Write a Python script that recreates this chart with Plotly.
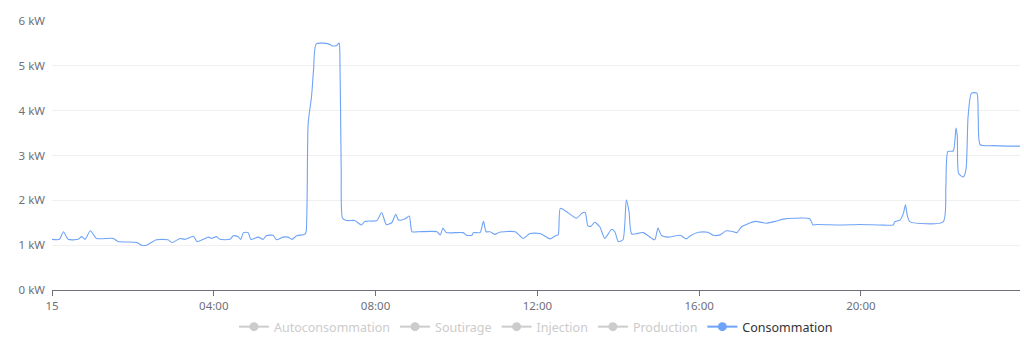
import plotly.graph_objects as go

DAY = "2024-01-15"

times = ["00:00","00:11","00:17","00:24","00:39","00:44","00:49","00:57","01:06","01:31",
         "01:38","02:06","02:13","02:20","02:35","02:52","02:58","03:10","03:17","03:30",
         "03:35","03:44","03:52","03:57","04:04","04:09","04:24","04:29","04:36","04:40",
         "04:44","04:51","04:55","05:06","05:13","05:18","05:28","05:33","05:43","05:50",
         "05:56","06:03","06:15","06:17","06:20","06:25","06:28","06:32","06:50","06:55",
         "07:02","07:06","07:07","07:09","07:11","07:17","07:29","07:39","07:44","08:02",
         "08:09","08:16","08:24","08:30","08:34","08:44","08:50","08:54","09:03","09:31",
         "09:36","09:40","09:45","10:10","10:15","10:23","10:25","10:35","10:40","10:44",
         "10:50","10:57","11:04","11:27","11:39","11:49","12:04","12:19","12:28","12:31",
         "12:34","12:43","12:58","13:06","13:11","13:15","13:20","13:25","13:33","13:40",
         "13:50","13:55","14:00","14:07","14:12","14:16","14:20","14:37","14:54","14:59",
         "15:04","15:14","15:32","15:41","15:46","15:59","16:13","16:21","16:31","16:40",
         "16:48","16:56","17:03","17:23","17:40","17:55","18:05","18:20","18:44","18:49",
         "18:54","19:29","19:59","20:28","20:48","20:50","20:58","21:03","21:06","21:09",
         "21:13","22:02","22:06","22:09","22:17","22:21","22:23","22:25","22:32","22:36",
         "22:39","22:44","22:52","22:54","22:57","23:16","23:36","23:56"]

consommation = [1.13,1.13,1.30,1.13,1.13,1.19,1.13,1.32,1.15,1.15,
                1.08,1.06,1.00,1.00,1.12,1.12,1.06,1.15,1.13,1.20,
                1.08,1.13,1.18,1.15,1.19,1.13,1.13,1.21,1.19,1.13,
                1.28,1.28,1.13,1.18,1.13,1.21,1.22,1.12,1.18,1.18,
                1.13,1.21,1.24,1.30,3.72,4.31,4.91,5.49,5.49,5.45,
                5.45,5.51,5.30,2.68,1.60,1.55,1.55,1.45,1.53,1.55,
                1.73,1.46,1.50,1.69,1.56,1.59,1.65,1.30,1.30,1.30,
                1.23,1.38,1.28,1.28,1.22,1.22,1.28,1.28,1.53,1.30,
                1.30,1.24,1.29,1.30,1.15,1.26,1.26,1.14,1.22,1.23,
                1.82,1.75,1.60,1.71,1.73,1.43,1.43,1.51,1.40,1.15,
                1.35,1.30,1.08,1.12,2.01,1.75,1.25,1.28,1.12,1.38,
                1.22,1.18,1.22,1.14,1.20,1.29,1.29,1.22,1.23,1.32,
                1.31,1.28,1.41,1.53,1.49,1.54,1.58,1.60,1.59,1.45,
                1.46,1.45,1.46,1.45,1.45,1.52,1.56,1.71,1.90,1.65,
                1.52,1.52,2.31,3.09,3.10,3.61,3.42,2.60,2.52,2.70,
                3.87,4.39,4.39,3.87,3.24,3.22,3.21,3.21]

hidden_series = ["Autoconsommation", "Soutirage", "Injection", "Production"]
shown_series = "Consommation"
tick_hours = ["00:00", "04:00", "08:00", "12:00", "16:00", "20:00"]
tick_labels = ["15", "04:00", "08:00", "12:00", "16:00", "20:00"]
y_ticks = [0, 1, 2, 3, 4, 5, 6]
y_labels = [f"{v} kW" for v in y_ticks]

BLUE = "#6fa3f7"
GREY = "#cccccc"

x = [f"{DAY} {t}" for t in times]

fig = go.Figure()
fig.add_trace(go.Scatter(x=x, y=consommation, name=shown_series, mode="lines",
                         line=dict(color=BLUE, width=1.1, shape="spline", smoothing=0.6),
                         showlegend=False))
for name in hidden_series:
    fig.add_trace(go.Scatter(x=[x[0]], y=[None], mode="lines+markers",
                             name=f"<span style='color:{GREY}'>{name}</span>",
                             line=dict(color=GREY, width=2),
                             marker=dict(size=9, color=GREY), hoverinfo="skip"))
fig.add_trace(go.Scatter(x=[x[0]], y=[None], mode="lines+markers",
                         name=shown_series,
                         line=dict(color=BLUE, width=2),
                         marker=dict(size=9, color=BLUE), hoverinfo="skip"))

fig.update_layout(
    width=1024, height=344,
    margin=dict(l=52, r=4, t=21, b=54, autoexpand=False),
    paper_bgcolor="white", plot_bgcolor="white",
    font=dict(family="Noto Sans", size=11, color="#6e7079"),
    showlegend=True,
    legend=dict(orientation="h", x=0.5, xanchor="center",
                yref="container", y=1 - 327 / 344, yanchor="middle",
                font=dict(size=12.5, color="#333333"), itemwidth=30,
                bgcolor="rgba(0,0,0,0)", tracegroupgap=0),
    xaxis=dict(type="date",
               range=[f"{DAY} 00:00", f"{DAY} 23:56"],
               tickvals=[f"{DAY} {h}" for h in tick_hours],
               ticktext=tick_labels,
               showgrid=False, showline=True, linecolor="#6e7079", linewidth=1,
               ticks="outside", ticklen=5, tickcolor="#6e7079",
               tickfont=dict(size=11.5, color="#6e7079"), zeroline=False),
    yaxis=dict(range=[0, 6], tickvals=y_ticks, ticktext=y_labels,
               showgrid=True, gridcolor="#f0f0f0", gridwidth=1,
               showline=False, zeroline=False, ticks="", ticklabelstandoff=6,
               tickfont=dict(size=11.5, color="#6e7079")),
)

fig.write_html("out.html")
